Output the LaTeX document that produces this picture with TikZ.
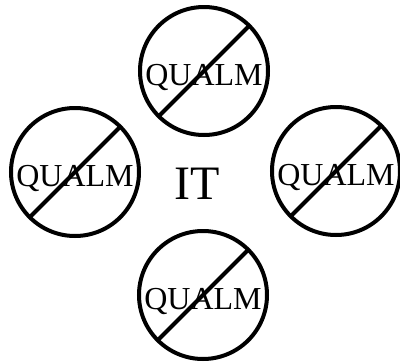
\documentclass[tikz,border=0pt]{standalone}
\usepackage{fontspec}
\setmainfont{Liberation Serif}
\begin{document}
\begin{tikzpicture}[x=1bp,y=-1bp,
  nosign/.style={circle,draw=black,line width=4bp,minimum size=128bp,inner sep=0pt,
    path picture={\draw[line width=4bp] (path picture bounding box.center)++(-46bp,-46bp) -- ++(92bp,92bp);}},
  qlabel/.style={font=\fontsize{32bp}{32bp}\selectfont,inner sep=0pt,anchor=base},
  itlabel/.style={font=\fontsize{48bp}{48bp}\selectfont,inner sep=0pt}]
\useasboundingbox (0,0) rectangle (400,362);
\node[nosign] (top) at (204,71) {};
\node[nosign] (left) at (75,172) {};
\node[nosign] (right) at (336,171) {};
\node[nosign] (bottom) at (203,295) {};
\node[qlabel] (qtop) at ([yshift=-14bp]top.center) {QUALM};
\node[qlabel] (qleft) at ([yshift=-14bp]left.center) {QUALM};
\node[qlabel] (qright) at ([yshift=-14bp]right.center) {QUALM};
\node[qlabel] (qbottom) at ([yshift=-14bp]bottom.center) {QUALM};
\node[itlabel] (it) at (197,184) {IT};
\end{tikzpicture}
\end{document}
